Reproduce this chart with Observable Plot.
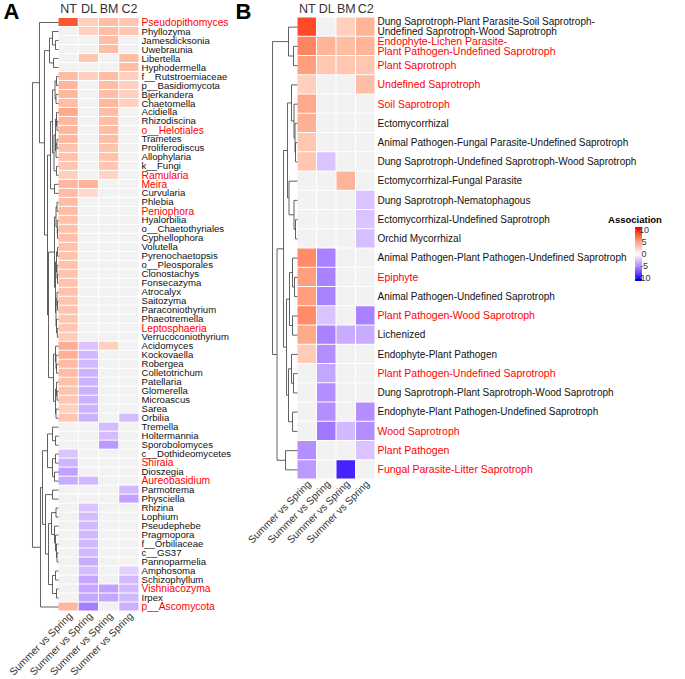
<!DOCTYPE html>
<html><head><meta charset="utf-8">
<script src="https://cdn.jsdelivr.net/npm/d3@7"></script>
<script src="https://cdn.jsdelivr.net/npm/@observablehq/plot@0.6"></script>
<style>
body{margin:0;background:#fff;font-family:"Liberation Sans",Arial,sans-serif;}
#wrap{display:flex;width:685px;height:679px;overflow:hidden}
</style></head><body><div id="wrap"></div>
<script>
const columns = ["NT","DL","BM","C2"];
const bottomLabel = "Summer vs Spring";

const taxaA = ["Pseudopithomyces","Phyllozyma","Jamesdicksonia","Uwebraunia","Libertella","Hyphodermella","f__Rutstroemiaceae","p__Basidiomycota","Bjerkandera","Chaetomella","Acidiella","Rhizodiscina","o__Helotiales","Trametes","Proliferodiscus","Allophylaria","k__Fungi","Ramularia","Meira","Curvularia","Phlebia","Peniophora","Hyalorbilia","o__Chaetothyriales","Cyphellophora","Volutella","Pyrenochaetopsis","o__Pleosporales","Clonostachys","Fonsecazyma","Atrocalyx","Saitozyma","Paraconiothyrium","Phaeotremella","Leptosphaeria","Verrucoconiothyrium","Acidomyces","Kockovaella","Robergea","Colletotrichum","Patellaria","Glomerella","Microascus","Sarea","Orbilia","Tremella","Holtermannia","Sporobolomyces","c__Dothideomycetes","Shiraia","Dioszegia","Aureobasidium","Parmotrema","Physciella","Rhizina","Lophium","Pseudephebe","Pragmopora","f__Orbiliaceae","c__GS37","Pannoparmelia","Amphosoma","Schizophyllum","Vishniacozyma","Irpex","p__Ascomycota"];
const highlightA = ["Pseudopithomyces","o__Helotiales","Ramularia","Meira","Peniophora","Leptosphaeria","Shiraia","Aureobasidium","Vishniacozyma","p__Ascomycota"];
// values per row: NT, DL, BM, C2 (null = not significant)
const valuesA = [
[8.3,2.5,3.5,3],[null,2.5,3.5,3],[null,null,3.5,null],[null,null,3.5,null],[null,3,null,3.5],[null,null,null,3.5],
[3.5,2.5,3.5,2.5],[3.8,null,3.5,2.5],[3.8,null,3.5,2.5],[3.5,null,3.8,2.5],[4.5,null,3.5,null],[3.8,null,3.5,null],
[3.8,null,3.5,null],[3.8,null,3.5,null],[3.2,null,3.2,null],[3.2,null,3.2,null],[3,null,3,null],[2.5,null,2.3,null],
[3.8,4,null,null],[3.5,2,null,null],[3.5,null,null,null],[3.5,null,null,null],[3.3,null,null,null],[3.3,null,null,null],
[3.3,null,null,null],[3.2,null,null,null],[3.2,null,null,null],[3.2,null,null,null],[3.2,null,null,null],[3.2,null,null,null],
[3.2,null,null,null],[3.1,null,null,null],[3.1,null,null,null],[3,null,null,null],[3,null,null,null],[2.7,null,null,null],
[4.3,-2.5,2.5,null],[4.2,-3,null,null],[3.6,-3,null,null],[3.6,-3.3,null,null],[3.3,-3.3,null,null],[3.2,-3.3,null,null],
[3,-3.3,null,null],[2.5,-3.3,null,null],[3,-3.3,null,-2.8],[null,null,-2.8,null],[null,null,-2.8,null],[null,null,-4.3,null],
[-2.5,null,null,null],[-3.2,null,null,null],[-4,null,null,null],[-3.5,-3,null,null],[null,null,null,-3],[null,null,null,-4],
[null,-2.5,null,null],[null,-2.8,null,null],[null,-3,null,null],[null,-3,null,null],[null,-3,null,null],[null,-3,null,null],
[null,-3.5,null,null],[null,-2.8,null,-2],[null,-3.8,null,-3],[null,-3.8,-4,-3],[null,-3.8,-3.8,-3],[3.8,-5.5,null,-3.3]
];
// dendrogram: [mergeHeight, left, right]; leaves are 1-based row numbers
const treeA = [26,
  [19, 1,
    [14,
      [9, [6, 2, [3, 3, 4]], [5, 5, 6]],
      [11,
        [8,
          [6,
            [3.5, [2, 7, 8], [2.5, 9, 10]],
            [4.5, [3, [2, 11, [1.5, 12, 13]], [2.5, [1.5, 14, 15], 16]], [2, 17, 18]]],
          [4, 19, 20]],
        [10,
          [4, [2.5, [1.5, 21, 22], [1.2, 23, [1, 24, 25]]], [3, [2, [1, 26, 27], [1.5, 28, [1, 29, 30]]], [2.5, [1.5, 31, [1, 32, 33]], [2, 34, [1.2, 35, 36]]]]],
          [5, [3, 37, [2.5, 38, [2, 39, 40]]], [3, [2, 41, [1.5, 42, 43]], [2.5, 44, 45]]]]]]],
  [18,
    [16,
      [11, [6, 46, [3, 47, 48]], [6, [3, 49, 50], [4, 51, 52]]],
      [13, [6, 53, 54], [10, [7, [2.5, 55, 56], [4, 57, [3, 58, [2, 59, [1.5, 60, 61]]]]], [6, [3, 62, 63], [2, 64, 65]]]]],
    66]];

const guildsB = ["Dung Saprotroph-Plant Parasite-Soil Saprotroph-\nUndefined Saprotroph-Wood Saprotroph","Endophyte-Lichen Parasite-\nPlant Pathogen-Undefined Saprotroph","Plant Saprotroph","Undefined Saprotroph","Soil Saprotroph","Ectomycorrhizal","Animal Pathogen-Fungal Parasite-Undefined Saprotroph","Dung Saprotroph-Undefined Saprotroph-Wood Saprotroph","Ectomycorrhizal-Fungal Parasite","Dung Saprotroph-Nematophagous","Ectomycorrhizal-Undefined Saprotroph","Orchid Mycorrhizal","Animal Pathogen-Plant Pathogen-Undefined Saprotroph","Epiphyte","Animal Pathogen-Undefined Saprotroph","Plant Pathogen-Wood Saprotroph","Lichenized","Endophyte-Plant Pathogen","Plant Pathogen-Undefined Saprotroph","Dung Saprotroph-Plant Saprotroph-Wood Saprotroph","Endophyte-Plant Pathogen-Undefined Saprotroph","Wood Saprotroph","Plant Pathogen","Fungal Parasite-Litter Saprotroph"];
const highlightB = [2,3,4,5,14,16,19,22,23,24];
const valuesB = [
[8.7,null,2.5,4],[6.3,4,3.5,4],[5,3,3,3],[2.5,null,null,3.5],[4.5,null,null,null],[4.2,null,null,null],
[3,null,null,null],[3,-2.5,null,null],[null,null,4,null],[null,null,null,-2.5],[null,null,null,-2.5],[null,null,null,-2.7],
[6,-5.3,null,null],[5,-5.3,null,null],[5,-5.3,null,null],[6,-2.5,null,-5.3],[4.5,-5.3,-3.5,-3.5],[2.7,-4.8,null,null],
[null,-3.8,null,null],[null,-4.8,null,null],[null,-4.8,null,-4.8],[null,-5.8,-3,-4.8],[-4.8,null,null,-2.5],[-4.3,null,-9.2,null]
];
const treeB = [25,
  [9, 1, [4, 2, 3]],
  [20.5,
    [14,
      [10, [6, 4, [3.5, 5, [2.5, 6, [2, 7, 8]]]], [8.5, 9, [3.5, 10, [2, 11, 12]]]],
      [11, [8, [5, 13, [3, 14, 15]], [5, 16, 17]], [9, [6, 18, [4, 19, 20]], [5, 21, 22]]]],
    [12, 23, 24]]];

const legendTicks = [10, 5, 0, -5, -10];
const legendTitle = "Association";

const colorOpts = {type: "linear", domain: [-10, 0, 10], range: ["blue", "white", "red"], interpolate: d3.interpolateLab, clamp: true};
const NA_FILL = "#F2F2F2";
const FONT = "Liberation Sans, Arial, sans-serif";

function cellsOf(values) {
  const out = [];
  values.forEach((row, ri) => row.forEach((v, ci) => out.push({ri, ci, v})));
  return out;
}
function dendroSegments(tree, DW) {
  const rootH = tree[0];
  const segs = [];
  function walk(node) {
    if (typeof node === "number") return {x: 0, y: node - 0.5};
    const [h, a, b] = node;
    const A = walk(a), B = walk(b);
    const x = -h / rootH * DW;
    segs.push({x1: x, y1: A.y, x2: x, y2: B.y});
    segs.push({x1: x, y1: A.y, x2: A.x, y2: A.y});
    segs.push({x1: x, y1: B.y, x2: B.x, y2: B.y});
    return {x, y: (A.y + B.y) / 2};
  }
  walk(tree);
  return segs;
}

function panel({letter, labels, isRed, values, tree, width, marginLeft, marginRight, marginTop, marginBottom, dendroW, lineHeight, fsBlack, fsRed}) {
  const n = labels.length;
  const cells = cellsOf(values);
  const rows = labels.map((name, i) => ({name, i, red: isRed(name, i)}));
  return Plot.plot({
    width, height: 679, marginLeft, marginRight, marginTop, marginBottom,
    style: {fontFamily: FONT, background: "white", overflow: "visible"},
    x: {domain: [0, 4], axis: null},
    y: {domain: [0, n], reverse: true, axis: null},
    color: colorOpts,
    marks: [
      Plot.rect(cells.filter(d => d.v == null), {x1: d => d.ci, x2: d => d.ci + 1, y1: d => d.ri, y2: d => d.ri + 1, fill: NA_FILL, inset: 0.5}),
      Plot.rect(cells.filter(d => d.v != null), {x1: d => d.ci, x2: d => d.ci + 1, y1: d => d.ri, y2: d => d.ri + 1, fill: "v", inset: 0.5}),
      Plot.link(dendroSegments(tree, dendroW), {x1: "x1", y1: "y1", x2: "x2", y2: "y2", stroke: "#3a3a3a", strokeWidth: 0.8}),
      Plot.text(rows, {x: 4, y: d => d.i + 0.5, text: "name", textAnchor: "start", dx: 2, lineHeight,
        fill: d => d.red ? "#FF0000" : "#111", fontSize: d => d.red ? fsRed : fsBlack}),
      Plot.text(columns, {x: (d, i) => i + 0.5, frameAnchor: "top", lineAnchor: "bottom", dy: -5, fontSize: 12.5, fill: "#333"}),
      Plot.text(columns, {x: (d, i) => i + 0.5, frameAnchor: "bottom", text: () => bottomLabel, rotate: -45, textAnchor: "end", lineAnchor: "middle", dx: 2, dy: 3, fontSize: 10.2, fill: "#333"}),
      Plot.text([letter], {frameAnchor: "top-left", dx: -marginLeft + 3, dy: -marginTop + 3, lineAnchor: "top", fontSize: 22, fontWeight: "bold", fill: "#000"})
    ]
  });
}

const wrap = document.getElementById("wrap");
const plotA = panel({letter: "A", labels: taxaA, isRed: (name) => highlightA.includes(name), values: valuesA, tree: treeA,
  width: 232, marginLeft: 58, marginRight: 93, marginTop: 17.5, marginBottom: 68, dendroW: 1.284, lineHeight: 1, fsBlack: 9.6, fsRed: 10.3});
const plotB = panel({letter: "B", labels: guildsB, isRed: (name, i) => highlightB.includes(i + 1), values: valuesB, tree: treeB,
  width: 453, marginLeft: 65, marginRight: 310, marginTop: 17, marginBottom: 200, dendroW: 1.28, lineHeight: 1, fsBlack: 10, fsRed: 10.5});
wrap.appendChild(plotA);
wrap.appendChild(plotB);

// Legend (colorbar) inside panel B
const colorScale = Plot.scale({color: colorOpts});
const svg = d3.select(plotB);
const barX = 403, barW = 7, barMid = 254, pxPerUnit = 2.4, barHalf = 11.25;
const grad = svg.append("defs").append("linearGradient").attr("id", "assocGrad").attr("x1", 0).attr("x2", 0).attr("y1", 0).attr("y2", 1);
for (let k = 0; k <= 40; k++) {
  const v = barHalf - k * (2 * barHalf / 40);
  grad.append("stop").attr("offset", k / 40).attr("stop-color", colorScale.apply(v));
}
const lg = svg.append("g").attr("font-family", FONT);
lg.append("rect").attr("x", barX).attr("y", barMid - barHalf * pxPerUnit).attr("width", barW).attr("height", 2 * barHalf * pxPerUnit).attr("fill", "url(#assocGrad)");
legendTicks.forEach(t => {
  const y = barMid - t * pxPerUnit;
  lg.append("line").attr("x1", barX).attr("x2", barX + 1.5).attr("y1", y).attr("y2", y).attr("stroke", "white").attr("stroke-width", 0.6);
  lg.append("line").attr("x1", barX + barW - 1.5).attr("x2", barX + barW).attr("y1", y).attr("y2", y).attr("stroke", "white").attr("stroke-width", 0.6);
  lg.append("text").attr("x", barX + barW + 2).attr("y", y).attr("dy", "0.35em").attr("font-size", 9).attr("fill", "#333").text(t);
});
lg.append("text").attr("x", barX).attr("y", 223).attr("font-size", 9.5).attr("font-weight", "bold").attr("fill", "#000").text(legendTitle);
</script>
</body></html>
